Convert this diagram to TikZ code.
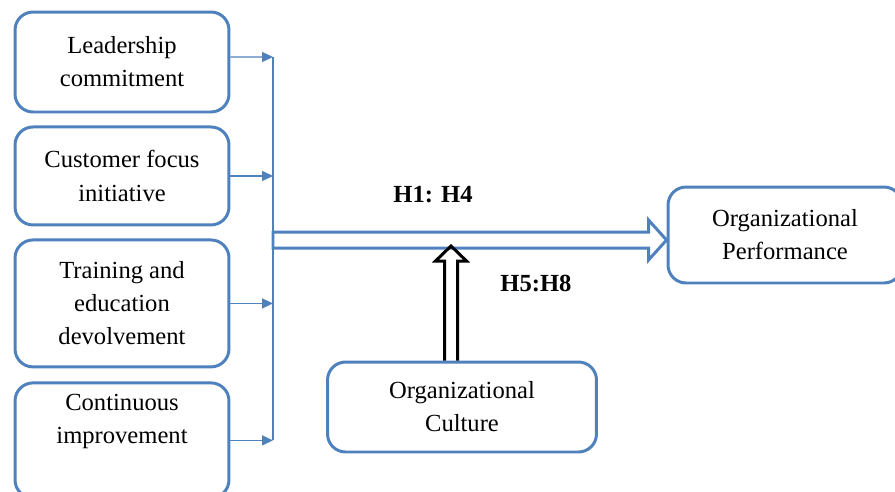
\documentclass[tikz,border=0pt]{standalone}
\usepackage{fontspec}
\setmainfont{Liberation Serif}
\usetikzlibrary{arrows.meta, positioning, calc}
\definecolor{boxblue}{RGB}{79,129,189}
\newlength{\boxwidth}
\setlength{\boxwidth}{4.28cm}
\newlength{\gap}
\setlength{\gap}{0.24cm}
\tikzstyle{factor} = [rectangle, draw=boxblue, line width=1.7pt, rounded corners=0.36cm, align=center, text centered, minimum width=\boxwidth, font=\fontsize{14}{18.8}\selectfont]
\tikzstyle{feed} = [draw=boxblue, line width=0.8pt, -{Triangle[length=0.22cm, width=0.2cm]}]
\tikzstyle{bus} = [draw=boxblue, line width=0.8pt]
\tikzstyle{effect} = [draw=boxblue, line width=1.7pt, line join=miter]
\tikzstyle{moderate} = [draw=black, line width=1.7pt, line join=miter]
\tikzstyle{hypo} = [font=\fontsize{14}{16}\selectfont\bfseries]

\begin{document}
\begin{tikzpicture}[x=0.02cm, y=-0.02cm]
    \clip (0,0) rectangle (895,491);

    % TQM practices
    \node (lead) [factor, minimum height=2cm] at (122,62) {Leadership\\commitment};
    \node (cust) [factor, minimum height=1.96cm, below=\gap of lead] {Customer focus\\initiative};
    \node (train) [factor, minimum height=2.54cm, below=\gap of cust] {Training and\\education\\devolvement};
    \node (cont) [factor, minimum height=2.3cm, below=0.26cm of train] {Continuous\\improvement\\\strut};

    % Outcome and moderator
    \node (perf) [factor, minimum width=4.68cm, minimum height=1.92cm] at (785,235) {Organizational\\Performance};
    \node (culture) [factor, minimum width=5.38cm, minimum height=1.8cm] at (462,407) {Organizational\\Culture};

    % ==== Arrows
    \coordinate (bus) at (273,57);
    \draw [bus] (bus) -- (bus |- cont.east);
    \draw [feed] ([yshift=0.1cm]lead.east) -- (bus);
    \draw [feed] (cust.east) -- (bus |- cust.east);
    \draw [feed] (train.east) -- (bus |- train.east);
    \draw [feed] (cont.east) -- (bus |- cont.east);

    % Main effect
    \coordinate (tail) at (273,240);
    \coordinate (tip) at (tail -| perf.west);
    \draw [effect] ($(tail)+(0,-8)$) -- ($(tip)+(-18,-8)$) -- ($(tip)+(-18,-20)$) -- (tip)
        -- ($(tip)+(-18,20)$) -- ($(tip)+(-18,8)$) -- ($(tail)+(0,8)$) -- cycle;

    % Moderating effect
    \coordinate (moderator) at ([xshift=-0.22cm]culture.north);
    \coordinate (cap) at ($(moderator |- tail)+(0,6)$);
    \draw [moderate] ($(moderator)+(-6.5,0)$) -- ($(cap)+(-6.5,15)$) -- ($(cap)+(-15.5,15)$) -- (cap)
        -- ($(cap)+(15.5,15)$) -- ($(cap)+(6.5,15)$) -- ($(moderator)+(6.5,0)$);

    % Hypotheses
    \node (h14) [hypo] at (433,195) {H1: H4};
    \node (h58) [hypo] at (536,283) {H5:H8};
\end{tikzpicture}
\end{document}
